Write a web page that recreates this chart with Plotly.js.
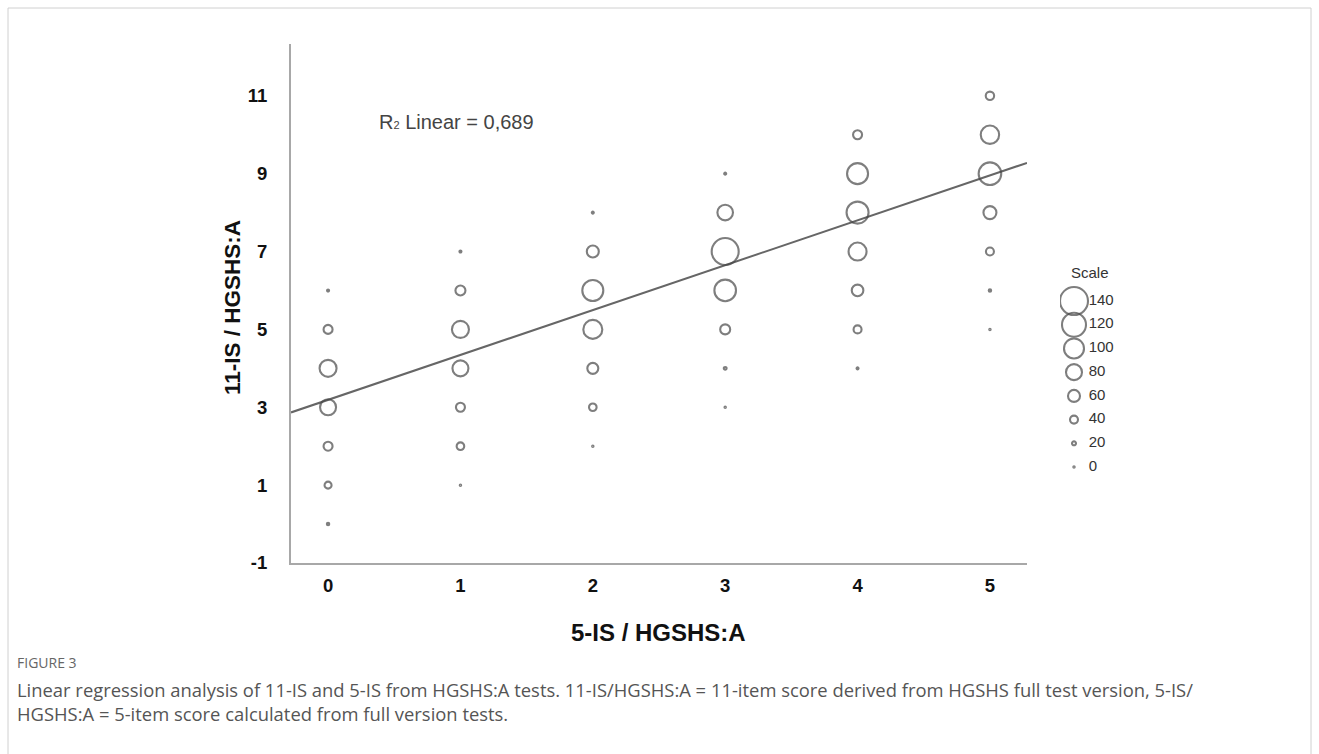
<!DOCTYPE html>
<html><head><meta charset="utf-8">
<script src="https://cdn.plot.ly/plotly-3.0.1.min.js"></script>
<style>html,body{margin:0;padding:0;background:#fff}#chart{width:1319px;height:754px}</style>
</head><body><div id="chart"></div>
<script>
// 5-item score (x), 11-item score (y), number of participants (bubble size)
const fiveItemScore   = [0,0,0,0,0,0,0, 1,1,1,1,1,1,1, 2,2,2,2,2,2,2, 3,3,3,3,3,3,3, 4,4,4,4,4,4,4, 5,5,5,5,5,5,5];
const elevenItemScore = [6,5,4,3,2,1,0, 7,6,5,4,3,2,1, 8,7,6,5,4,3,2, 9,8,7,6,5,4,3, 10,9,8,7,6,5,4, 11,10,9,8,7,6,5];
const participantCount= [10,45,85,80,45,35,12, 10,50,85,80,45,38,3, 10,60,105,95,55,38,6, 10,78,135,108,50,14,3, 45,105,110,90,58,40,10, 42,92,113,65,40,12,3];
const scaleCounts = [140,120,100,80,60,40,20,0];
const xTickValues = [0,1,2,3,4,5];
const xTickLabels = ['0','1','2','3','4','5'];
const yTickValues = [-1,1,3,5,7,9,11];
const yTickLabels = ['-1','1','3','5','7','9','11'];
const regIntercept = 3.19;
const regSlope = 1.153;
const rSquaredLabel = 'R<span style="font-size:11px">2</span> Linear = 0,689';
const xTitle = '5-IS / HGSHS:A';
const yTitle = '11-IS / HGSHS:A';
const legendTitle = 'Scale';
const figureLabel = 'FIGURE 3';
const captionLines = [
  'Linear regression analysis of 11-IS and 5-IS from HGSHS:A tests. 11-IS/HGSHS:A = 11-item score derived from HGSHS full test version, 5-IS/',
  'HGSHS:A = 5-item score calculated from full version tests.'
];
const xRange = [-0.28, 5.28];
const yRange = [-1, 12.33];

const W = 1319, H = 754;
const px = x => x / W;
const py = y => 1 - y / H;
const FONT = 'Liberation Sans, Arial, sans-serif';
const ringColor = '#474747';
const diameter = c => Math.max(c / 5, 1.4);   // bubble diameter in px from count

const bubbles = {
  type: 'scatter', mode: 'markers', x: fiveItemScore, y: elevenItemScore,
  marker: { symbol: 'circle-open', size: participantCount.map(diameter), sizemode: 'diameter',
            color: ringColor, line: { width: 2.1, color: ringColor } },
  hoverinfo: 'x+y+text', text: participantCount.map(String), showlegend: false
};
const fitLine = {
  type: 'scatter', mode: 'lines', x: xRange, y: xRange.map(v => regIntercept + regSlope * v),
  line: { color: '#666666', width: 2 }, hoverinfo: 'skip', showlegend: false
};
const legendMarkers = {
  type: 'scatter', mode: 'markers', xaxis: 'x2', yaxis: 'y2',
  x: scaleCounts.map(() => 0), y: scaleCounts,
  marker: { symbol: 'circle-open', size: scaleCounts.map(diameter), sizemode: 'diameter',
            color: ringColor, line: { width: 2.1, color: ringColor } },
  hoverinfo: 'skip', showlegend: false
};
const legendText = {
  type: 'scatter', mode: 'text', xaxis: 'x2', yaxis: 'y2',
  x: scaleCounts.map(() => 1.05), y: scaleCounts, text: scaleCounts.map(String),
  textposition: 'middle right', textfont: { family: FONT, size: 15, color: '#333' },
  hoverinfo: 'skip', showlegend: false
};

const tickFont = { family: FONT, size: 18.5, color: '#111', weight: 'bold' };

const layout = {
  width: W, height: H,
  margin: { l: 0, r: 0, t: 0, b: 0 },
  paper_bgcolor: '#ffffff', plot_bgcolor: '#ffffff',
  showlegend: false,
  xaxis: { domain: [px(291), px(1027)], range: xRange, tickvals: xTickValues, ticktext: xTickLabels, ticks: '',
           showgrid: false, zeroline: false, showline: true, linecolor: '#a8a8a8', linewidth: 2,
           tickfont: tickFont, ticklabelstandoff: 5, anchor: 'y', fixedrange: true },
  yaxis: { domain: [py(563), py(44)], range: yRange, tickvals: yTickValues, ticktext: yTickLabels, ticks: '',
           showgrid: false, zeroline: false, showline: true, linecolor: '#a8a8a8', linewidth: 2,
           tickfont: tickFont, ticklabelstandoff: 18, anchor: 'x', fixedrange: true },
  xaxis2: { domain: [px(1060), px(1130)], range: [-1, 4], visible: false, anchor: 'y2', fixedrange: true },
  yaxis2: { domain: [py(478.9), py(277.3)], range: [-10, 160], visible: false, anchor: 'x2', fixedrange: true },
  annotations: [
    { text: rSquaredLabel, xref: 'paper', yref: 'paper', x: px(377), y: py(122), xanchor: 'left', yanchor: 'middle',
      showarrow: false, font: { family: FONT, size: 20, color: '#444' } },
    { text: xTitle, xref: 'paper', yref: 'paper', x: px(658), y: py(632), xanchor: 'center', yanchor: 'middle',
      showarrow: false, font: { family: FONT, size: 24, color: '#111', weight: 'bold' } },
    { text: yTitle, xref: 'paper', yref: 'paper', x: px(232), y: py(308), xanchor: 'center', yanchor: 'middle',
      textangle: -90, showarrow: false, font: { family: FONT, size: 22.5, color: '#111', weight: 'bold' } },
    { text: legendTitle, xref: 'paper', yref: 'paper', x: px(1090), y: py(273), xanchor: 'center', yanchor: 'middle',
      showarrow: false, font: { family: FONT, size: 15, color: '#333' } },
    { text: figureLabel, xref: 'paper', yref: 'paper', x: px(15), y: py(662), xanchor: 'left', yanchor: 'middle',
      showarrow: false, font: { family: 'Open Sans, sans-serif', size: 14, color: '#666' } },
    { text: captionLines[0], xref: 'paper', yref: 'paper', x: px(15), y: py(689), xanchor: 'left', yanchor: 'middle',
      showarrow: false, font: { family: 'Open Sans, sans-serif', size: 18.4, color: '#555' } },
    { text: captionLines[1], xref: 'paper', yref: 'paper', x: px(15), y: py(713), xanchor: 'left', yanchor: 'middle',
      showarrow: false, font: { family: 'Open Sans, sans-serif', size: 18.4, color: '#555' } }
  ],
  shapes: [
    { type: 'rect', xref: 'paper', yref: 'paper', x0: px(8), x1: px(1311), y0: py(770), y1: py(8),
      line: { color: '#d0d0d0', width: 1 }, fillcolor: 'rgba(0,0,0,0)', layer: 'below' }
  ]
};

Plotly.newPlot('chart', [fitLine, bubbles, legendMarkers, legendText], layout, { staticPlot: true, displayModeBar: false });
</script>
</body></html>
